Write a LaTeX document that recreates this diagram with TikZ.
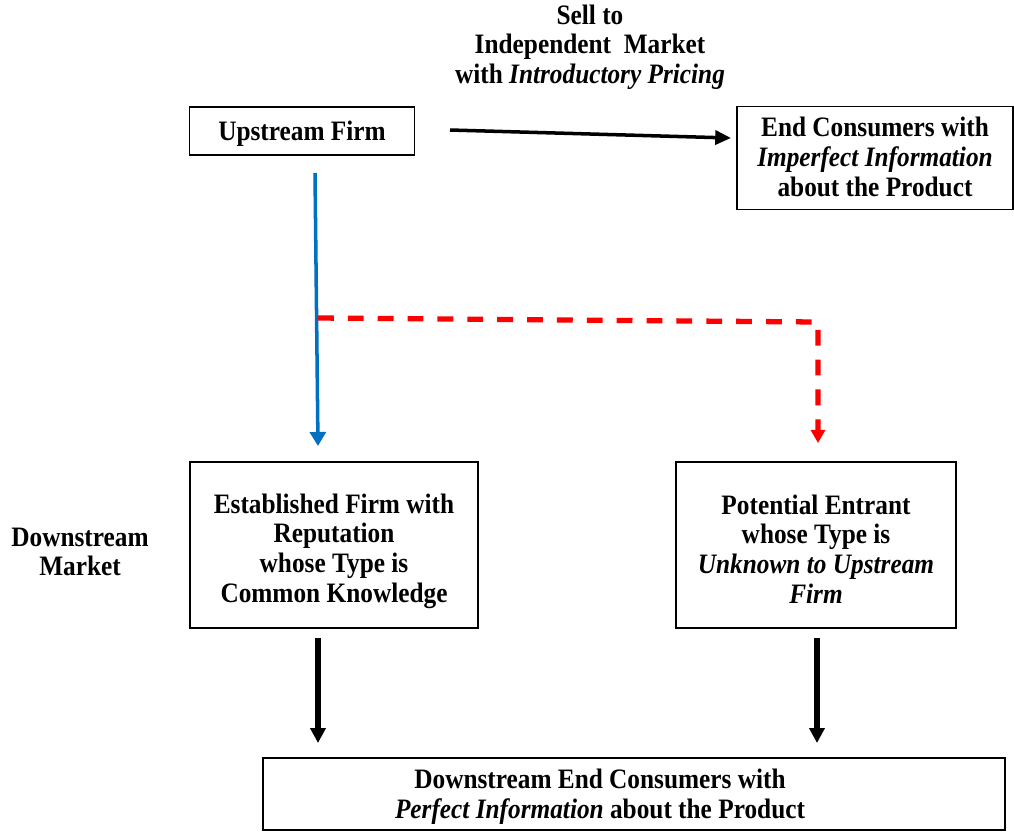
\documentclass[tikz,border=0pt]{standalone}
\usepackage{fontspec}
\setmainfont{Liberation Serif}[FakeStretch=0.9]
\usetikzlibrary{arrows.meta}

\definecolor{flowblue}{RGB}{0,112,192}

\tikzset{
  box/.style={draw, line width=1pt, inner sep=0pt},
  boxtext/.style={align=center, inner sep=0pt},
  sellarrow/.style={black, line width=2pt, -{Triangle[length=9pt,width=8pt]}},
  bluearrow/.style={flowblue, line width=2pt, -{Triangle[length=8pt,width=9pt]}},
  redarrow/.style={red, line width=3pt, dash pattern=on 9pt off 8pt, -{Triangle[length=7.5pt,width=8pt]}},
  downarrow/.style={black, line width=3.2pt, -{Triangle[length=8.5pt,width=8.5pt]}}
}

\begin{document}
\begin{tikzpicture}[x=0.02cm, y=-0.02cm, font=\fontsize{16}{16.9}\selectfont\bfseries]
                \useasboundingbox (0, 0) rectangle (1014, 833);
                % boxes
                \node [box, minimum width=4.5cm, minimum height=0.96cm] (upstream) at (302, 131) {};
                \node [box, minimum width=5.52cm, minimum height=2.06cm] (consumers) at (875, 158) {};
                \node [box, minimum width=5.76cm, minimum height=3.32cm] (established) at (334, 545) {};
                \node [box, minimum width=5.6cm, minimum height=3.32cm] (entrant) at (816, 545) {};
                \node [box, minimum width=14.84cm, minimum height=1.44cm] (downconsumers) at (634, 794) {};
                % texts
                \node [boxtext] (upstreamtext) at (302, 134) {Upstream Firm};
                \node [boxtext] (consumerstext) at (875, 157)
                    {End Consumers with\\\textit{Imperfect Information}\\about the Product};
                \node [boxtext] (establishedtext) at (334, 551)
                    {Established Firm with\\Reputation\\whose Type is\\Common Knowledge};
                \node [boxtext] (entranttext) at (816, 549)
                    {Potential Entrant\\whose Type is\\\textit{Unknown to Upstream}\\\textit{Firm}};
                \node [boxtext] (downconsumerstext) at (600, 797)
                    {Downstream End Consumers with\\\textit{Perfect Information} about the Product};
                \node [boxtext] (sell) at (590, 47) {Sell to\\Independent\ \ Market\\with \textit{Introductory Pricing}};
                \node [boxtext] (market) at (80, 552) {Downstream\\Market};
                % arrow ends
                \coordinate (sellstart) at (450, 130);
                \coordinate (sellend) at (731, 138);
                \coordinate (bluestart) at (315, 173);
                \coordinate (blueend) at (318, 446);
                \coordinate (redstart) at (318, 318);
                \coordinate (redcorner) at (818, 322);
                \coordinate (redend) at (818, 443);
                \coordinate (leftstart) at (318, 638);
                \coordinate (leftend) at (318, 743);
                \coordinate (rightstart) at (817, 638);
                \coordinate (rightend) at (817, 743);
                % connectors
                \draw [sellarrow] (sellstart) -- (sellend);
                \draw [bluearrow] (bluestart) -- (blueend);
                \draw [redarrow] (redstart) -- (redcorner) -- (redend);
                \draw [downarrow] (leftstart) -- (leftend);
                \draw [downarrow] (rightstart) -- (rightend);
            \end{tikzpicture}
\end{document}
